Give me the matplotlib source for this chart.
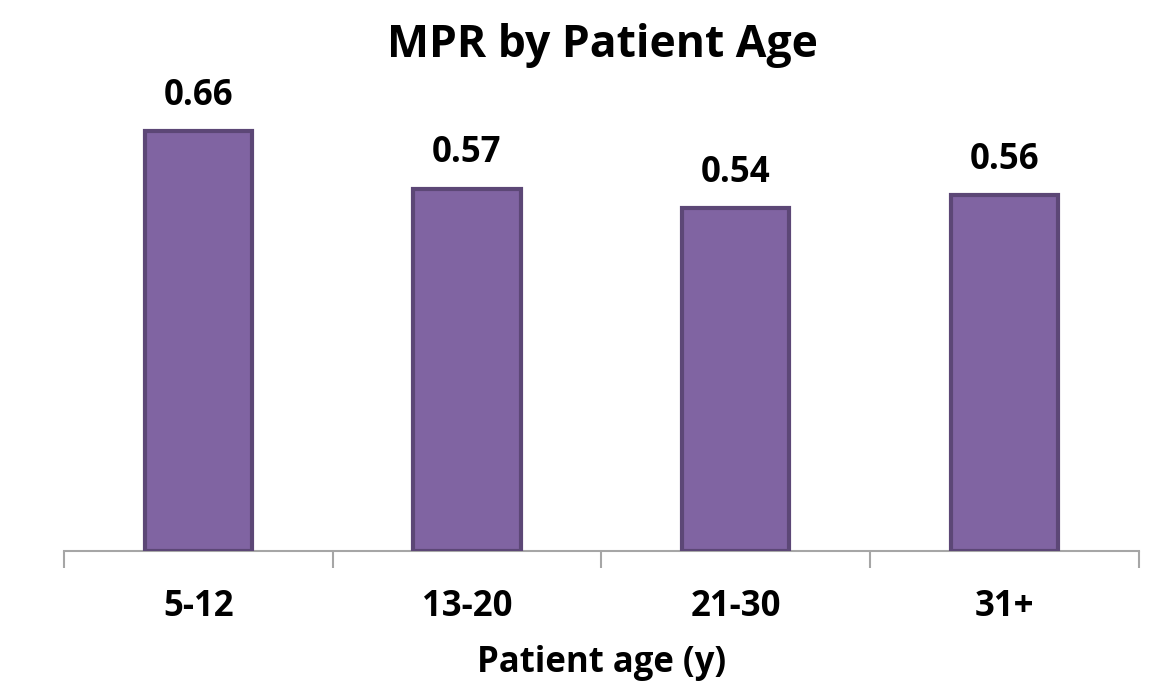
import matplotlib.pyplot as plt

categories = ["5-12", "13-20", "21-30", "31+"]
mpr = [0.66, 0.57, 0.54, 0.56]

plt.rcParams['font.family'] = ['Open Sans', 'DejaVu Sans']

fig = plt.figure(figsize=(11.63, 6.88), dpi=100)
ax = fig.add_axes([0.055, 0.199, 0.924, 0.647])

x = range(len(categories))
bars = ax.bar(x, mpr, width=0.4, color='#8064A2', edgecolor='#5C4776', linewidth=3, zorder=3)

for b, v in zip(bars, mpr):
    ax.text(b.get_x() + b.get_width() / 2, v + 0.027, f"{v:.2f}",
            ha='center', va='bottom', fontsize=25, fontweight='bold')

ax.set_xlim(-0.5, len(categories) - 0.5)
ax.set_ylim(0, 0.7)
ax.set_yticks([])
for s in ['top', 'right', 'left']:
    ax.spines[s].set_visible(False)
ax.spines['bottom'].set_color('#A6A6A6')
ax.spines['bottom'].set_linewidth(1.5)

# boundary ticks between categories, labels at category centres
ax.set_xticks([i - 0.5 for i in range(len(categories) + 1)], minor=False)
ax.set_xticklabels([])
ax.tick_params(axis='x', which='major', length=12, width=1.5, color='#A6A6A6')
ax.set_xticks(list(x), minor=True)
ax.set_xticklabels(categories, minor=True, fontsize=25, fontweight='bold')
ax.tick_params(axis='x', which='minor', length=0, pad=27)

ax.set_xlabel("Patient age (y)", fontsize=25, fontweight='bold', labelpad=15)
fig.text(0.518, 0.917, "MPR by Patient Age", ha='center', va='baseline',
         fontsize=32, fontweight='bold')

fig.savefig("out.png", dpi=100)
